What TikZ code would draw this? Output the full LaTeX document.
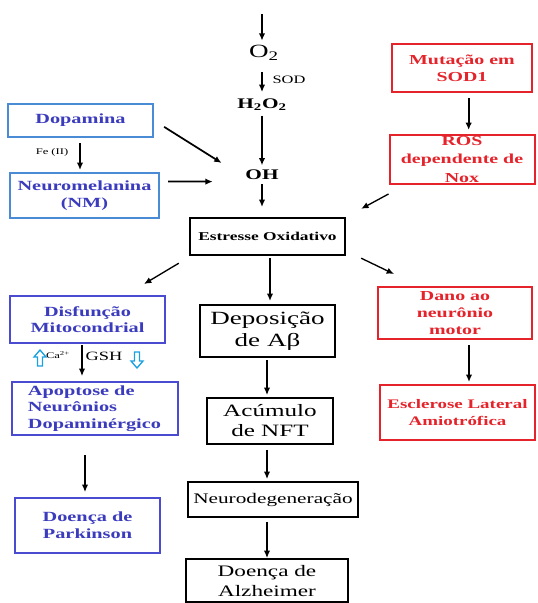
\documentclass[tikz,border=0pt]{standalone}
\usepackage{fontspec}
\setmainfont{Liberation Serif}[FakeStretch=1.45]
\usetikzlibrary{arrows.meta, positioning, calc}
\definecolor{pdcolor}{RGB}{59, 59, 189}
\definecolor{pdframe}{RGB}{75, 75, 210}
\definecolor{dopframe}{RGB}{74, 139, 214}
\definecolor{alscolor}{RGB}{228, 35, 43}
\definecolor{ioncolor}{RGB}{26, 160, 224}
\newlength{\px}
\setlength{\px}{0.75pt}

\begin{document}
\begin{tikzpicture}[
    x=0.75pt, y=-0.75pt,
    >={Latex[length=5.5pt, width=4.8pt]},
    box/.style={rectangle, draw, line width=1.5pt, align=center, inner sep=1pt},
    pdbox/.style={box, draw=pdframe, text=pdcolor, font=\fontsize{10.5}{12.5}\selectfont\bfseries},
    dopbox/.style={pdbox, draw=dopframe},
    alsbox/.style={box, draw=alscolor, text=alscolor, font=\fontsize{10.3}{12.5}\selectfont\bfseries},
    adbox/.style={box, draw=black, line width=1.8pt},
    chem/.style={font=\fontsize{11}{13}\selectfont\bfseries},
    arrow/.style={->, line width=1.3pt},
    thin arrow/.style={->, line width=1pt},
    label/.style={font=\fontsize{8}{9}\selectfont},
    ion/.style={draw=ioncolor, line width=1pt, line join=miter}
]
\useasboundingbox (0,0) rectangle (537,603);

% Reactive oxygen chain
\coordinate (src) at (262,14);
\node[font=\fontsize{14}{16}\selectfont] (o2) at (264,53) {O\textsubscript{2}};
\node[chem] (h2o2) at (262,105) {H\textsubscript{2}O\textsubscript{2}};
\node[chem] (oh) at (262,175) {OH};
\node[label, font=\fontsize{8.5}{9}\selectfont] (sod) at (289,80) {SOD};

\draw[arrow] (src) -- (src |- o2.north);
\draw[thin arrow] (262,72) -- (262,92);
\draw[arrow] (h2o2.south) -- (oh.north);
\coordinate (estin) at (262,207);
\draw[arrow] (262,184) -- (estin);

% Parkinson branch (top)
\node[dopbox, minimum width=145\px, minimum height=33\px] (dop) at (80.5,120.5) {Dopamina};
\node[dopbox, minimum width=149\px, minimum height=45\px] (nm) at (84.5,195.5) {Neuromelanina\\(NM)};
\node[label, font=\fontsize{6.5}{8}\selectfont] (fe) at (52,152) {Fe (II)};

\draw[arrow] (80,143) -- (80,170);
\draw[arrow, shorten <=9pt, shorten >=17pt] (dop.east) -- (oh.west);
\draw[arrow, shorten <=6pt, shorten >=21pt] ([yshift=10.5pt]nm.east) -- ([yshift=-5pt]oh.west);

% ALS branch (top)
\node[alsbox, minimum width=140\px, minimum height=48\px] (mut) at (462,68) {Mutação em\\SOD1};
\node[alsbox, minimum width=145\px, minimum height=49\px, inner sep=0pt,
    font=\fontsize{10.3}{13.8}\selectfont\bfseries] (ros) at (462,159.5) {ROS\\dependente de\\Nox};

\draw[arrow, shorten <=4pt, shorten >=3pt] ([xshift=5pt]mut.south) -- ([xshift=5pt]ros.north);

% Oxidative stress
\node[adbox, minimum width=155\px, minimum height=37\px, font=\fontsize{9}{11}\selectfont\bfseries] (est) at (267.5,236.5) {Estresse Oxidativo};

\draw[thin arrow] ([shift={(0,9)}]ros.south west) -- ([shift={(15,-8)}]est.north east);

% Parkinson branch (bottom)
\node[pdbox, minimum width=155\px, minimum height=47\px] (disf) at (87.5,319.5) {Disfunção\\Mitocondrial};
\node[pdbox, minimum width=166\px, minimum height=53\px, align=left] (apop) at (94.5,408.5) {Apoptose de\\Neurônios\\Dopaminérgico};
\node[pdbox, minimum width=145\px, minimum height=55\px] (park) at (87.5,525.5) {Doença de\\Parkinson};

\draw[thin arrow] ([shift={(-10,7)}]est.south west) -- ([shift={(-22,-11)}]disf.north east);

% Ca / GSH hollow arrows
\draw[ion] (40,350) -- (46,357) -- (42.5,357) -- (42.5,366) -- (37.5,366) -- (37.5,357) -- (34,357) -- cycle;
\node[label, font=\fontsize{6.5}{8}\selectfont] (ca) at (58,355) {Ca\textsuperscript{2+}};
\node[label, font=\fontsize{9.5}{11}\selectfont] (gsh) at (104,356) {GSH};
\draw[ion] (137,368) -- (143,361) -- (139.5,361) -- (139.5,352) -- (134.5,352) -- (134.5,361) -- (131,361) -- cycle;

\draw[thin arrow] (82,345) -- (82,376);
\draw[thin arrow] (85,455) -- (85,492);

% Alzheimer branch
\node[adbox, minimum width=135\px, minimum height=52\px, font=\fontsize{14}{16.5}\selectfont] (depo) at (267.5,331) {Deposição\\de Aβ};
\node[adbox, minimum width=126\px, minimum height=46\px, font=\fontsize{13}{15}\selectfont] (acum) at (270,421) {Acúmulo\\de NFT};
\node[adbox, minimum width=170\px, minimum height=35\px, font=\fontsize{11}{13}\selectfont] (neuro) at (273,499.5) {Neurodegeneração};
\node[adbox, minimum width=162\px, minimum height=43\px, font=\fontsize{12}{15}\selectfont, anchor=north] (alz) at (267,558) {Doença de\\Alzheimer};

\draw[arrow] (270,258) -- (270,301);
\draw[thin arrow] (267,360) -- (267,395);
\draw[thin arrow] (267,450) -- (267,479);
\draw[thin arrow] (267,522) -- (alz.north -| 267,558);

% ALS branch (bottom)
\node[alsbox, minimum width=154\px, minimum height=52\px] (dano) at (455,313) {Dano ao\\neurônio\\motor};
\node[alsbox, minimum width=155\px, minimum height=55\px, font=\fontsize{9.8}{12.5}\selectfont\bfseries] (escl) at (457.5,412.5) {Esclerose Lateral\\Amiotrófica};

\draw[thin arrow] ([shift={(15,2)}]est.south east) -- ([shift={(17,-12)}]dano.north west);
\draw[arrow] (469,345) -- (469,382);

\end{tikzpicture}
\end{document}
